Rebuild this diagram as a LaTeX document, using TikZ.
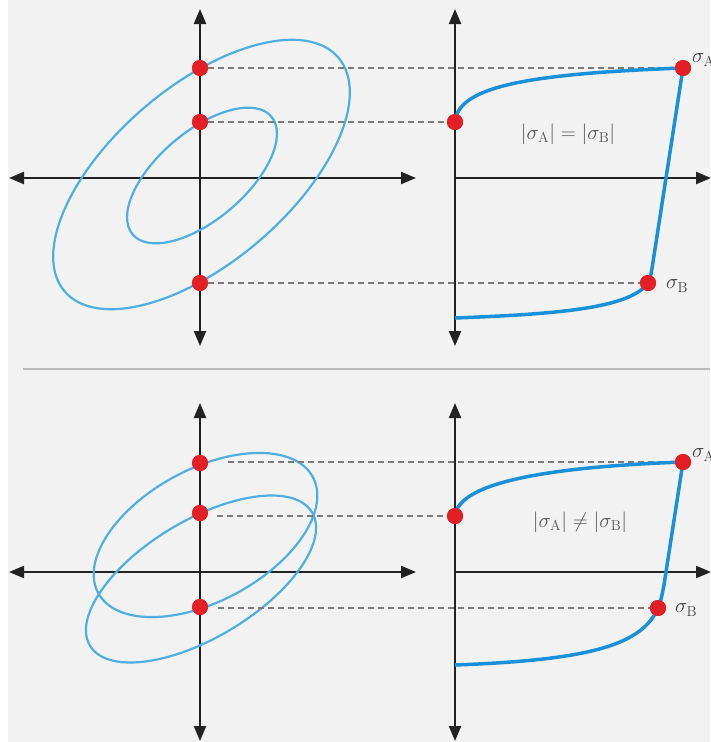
\documentclass[tikz,border=0pt]{standalone}
\usepackage{amsmath,amssymb}
\usetikzlibrary{arrows.meta}
\definecolor{bg}{HTML}{F2F2F2}
\definecolor{ell}{HTML}{4FAFE0}
\definecolor{crv}{HTML}{1A90D8}
\definecolor{dotred}{HTML}{E31E24}
\definecolor{axisc}{HTML}{222222}
\definecolor{dashc}{HTML}{7A7A7A}
\definecolor{txt}{HTML}{555555}
\begin{document}
\begin{tikzpicture}[x=1pt,y=-1pt,
  axis/.style={axisc, line width=2.2pt, {Triangle[width=12pt,length=15pt]}-{Triangle[width=12pt,length=15pt]}},
  axisr/.style={axisc, line width=2.2pt, -{Triangle[width=12pt,length=15pt]}},
  ellc/.style={ell, line width=2.2pt},
  crvc/.style={crv, line width=3.5pt},
  rdot/.style={circle, fill=dotred, inner sep=0pt, minimum size=16pt},
  guide/.style={dashc, line width=1.6pt, dash pattern=on 6pt off 4pt},
  lab/.style={font=\fontsize{22}{26}\selectfont, text=black!75, inner sep=0pt, anchor=west},
  eqn/.style={font=\fontsize{20}{24}\selectfont, text=txt, inner sep=0pt}
]
\useasboundingbox (0,0) rectangle (710,742);
\fill[white] (0,0) rectangle (710,742);
\fill[bg] (8,0) rectangle (710,742);
% separator
\coordinate (sepL) at (23,369);
\coordinate (sepR) at (710,369);
\draw[line width=2pt, black!27] (sepL) -- (sepR);

% ---------- top panel ----------
\coordinate (tLv1) at (200,9);  \coordinate (tLv2) at (200,346);
\coordinate (tLh1) at (9,178);   \coordinate (tLh2) at (416,178);
\coordinate (tRv1) at (455,9);  \coordinate (tRv2) at (455,346);
\coordinate (tRh1) at (455,178); \coordinate (tRh2) at (711,178);
\draw[axis] (tLv2) -- (tLv1);
\draw[axis] (tLh1) -- (tLh2);
\draw[axis] (tRv2) -- (tRv1);
\draw[axisr] (tRh1) -- (tRh2);

\draw[ellc, rotate around={40.5:(201.5,174.5)}] (201.5,174.5) ellipse [x radius=180, y radius=88];
\draw[ellc, rotate around={40.4:(202,175.5)}] (202,175.5) ellipse [x radius=91, y radius=44];

\node[rdot] (tD1) at (200,68) {};
\node[rdot] (tD2) at (200,122) {};
\node[rdot] (tD3) at (200,283) {};
\node[rdot] (tC0) at (455,122) {};
\node[rdot] (tA) at (683,68) {};
\node[rdot] (tB) at (648,283) {};
\coordinate (tEnd) at (455,318);
\coordinate (tK) at (653,262);

\draw[guide] (tD1) -- (tA);
\draw[guide] (tD2) -- (tC0);
\draw[guide] (tD3) -- (tB);

\draw[crvc] (tC0.center) .. controls (458,88) and (520,74) .. (tA.center)
  -- (tK) .. controls (651,275) .. (tB.center)
  .. controls (630,308) and (560,314) .. (tEnd);

\node[rdot] at (tD1) {};
\node[rdot] at (tD2) {};
\node[rdot] at (tD3) {};
\node[rdot] at (tC0) {};
\node[rdot] at (tA) {};
\node[rdot] at (tB) {};

\node[lab] (tlA) at (692,60) {$\sigma_{\mathrm{A}}$};
\node[lab] (tlB) at (666,286) {$\sigma_{\mathrm{B}}$};
\node[eqn] (teq) at (568,134) {$\lvert\sigma_{\mathrm{A}}\rvert = \lvert\sigma_{\mathrm{B}}\rvert$};

% ---------- bottom panel ----------
\coordinate (bLv1) at (200,403);  \coordinate (bLv2) at (200,741);
\coordinate (bLh1) at (9,572);    \coordinate (bLh2) at (416,572);
\coordinate (bRv1) at (455,403);  \coordinate (bRv2) at (455,741);
\coordinate (bRh1) at (455,572);  \coordinate (bRh2) at (711,572);
\draw[axis] (bLv2) -- (bLv1);
\draw[axis] (bLh1) -- (bLh2);
\draw[axis] (bRv2) -- (bRv1);
\draw[axisr] (bRh1) -- (bRh2);

\draw[ellc, rotate around={28.4:(205.5,535)}] (205.5,535) ellipse [x radius=122, y radius=66];
\draw[ellc, rotate around={31:(201,579)}] (201,579) ellipse [x radius=129.5, y radius=58.6];

\node[rdot] (bD1) at (200,463) {};
\node[rdot] (bD2) at (200,513) {};
\node[rdot] (bD3) at (200,607) {};
\node[rdot] (bC0) at (455,516) {};
\node[rdot] (bA) at (683,462) {};
\node[rdot] (bB) at (658,608) {};
\coordinate (bEnd) at (455,665);
\coordinate (bK) at (664,585);
\coordinate (bG1) at (228,462);
\coordinate (bG2) at (217,516);
\coordinate (bG3) at (218,608);

\draw[guide] (bG1) -- (bA);
\draw[guide] (bG2) -- (bC0);
\draw[guide] (bG3) -- (bB);

\draw[crvc] (bC0.center) .. controls (458,488) and (520,468) .. (bA.center)
  -- (bK) .. controls (661,600) .. (bB.center)
  .. controls (642,645) and (590,660) .. (bEnd);

\node[rdot] at (bD1) {};
\node[rdot] at (bD2) {};
\node[rdot] at (bD3) {};
\node[rdot] at (bC0) {};
\node[rdot] at (bA) {};
\node[rdot] at (bB) {};

\node[lab] (blA) at (692,455) {$\sigma_{\mathrm{A}}$};
\node[lab] (blB) at (675,610) {$\sigma_{\mathrm{B}}$};
\node[eqn] (beq) at (580,522) {$\lvert\sigma_{\mathrm{A}}\rvert \neq \lvert\sigma_{\mathrm{B}}\rvert$};
\end{tikzpicture}
\end{document}
